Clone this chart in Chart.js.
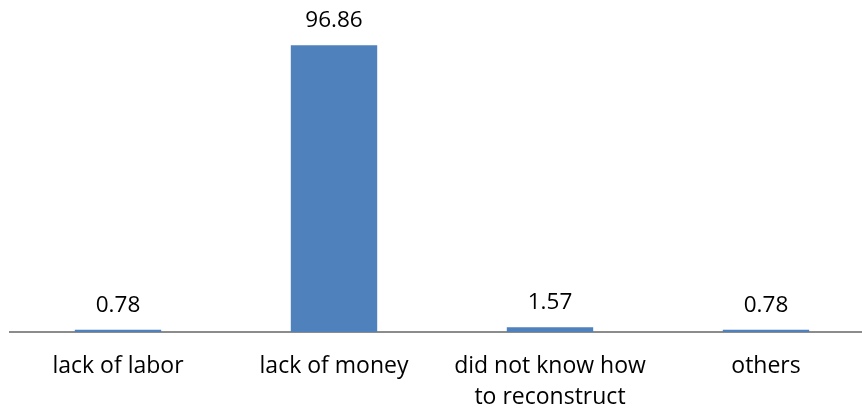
<!DOCTYPE html>
<html>
<head>
<meta charset="utf-8">
<script src="https://cdn.jsdelivr.net/npm/chart.js@4/dist/chart.umd.min.js"></script>
<style>
  html, body { margin: 0; padding: 0; background: #fff; overflow: hidden; }
  #wrap { width: 862px; height: 411px; overflow: hidden; }
</style>
</head>
<body>
<div id="wrap"><canvas id="chart" width="884" height="411"></canvas></div>
<script>
const categories = ['lack of labor', 'lack of money', ['did not know how', 'to reconstruct'], 'others'];
const values = [0.78, 96.86, 1.57, 0.78];

const fontFamily = '"Open Sans", "Liberation Sans", sans-serif';

// draws the value above each bar
const valueLabels = {
  id: 'valueLabels',
  afterDatasetsDraw(chart) {
    const ctx = chart.ctx;
    const meta = chart.getDatasetMeta(0);
    ctx.save();
    ctx.font = '22.5px ' + fontFamily;
    ctx.fillStyle = '#000';
    ctx.textAlign = 'center';
    ctx.textBaseline = 'alphabetic';
    meta.data.forEach((bar, i) => {
      ctx.fillText(values[i].toFixed(2), bar.x, bar.y - 18);
    });
    ctx.restore();
  }
};

new Chart(document.getElementById('chart').getContext('2d'), {
  type: 'bar',
  data: {
    labels: categories,
    datasets: [{
      data: values,
      backgroundColor: '#4F81BD',
      borderWidth: 0,
      categoryPercentage: 1,
      barPercentage: 0.4
    }]
  },
  options: {
    responsive: false,
    animation: false,
    layout: { padding: { top: 36, left: 10, right: 10, bottom: 0 } },
    plugins: {
      legend: { display: false },
      tooltip: { enabled: false }
    },
    scales: {
      x: {
        grid: { display: false, drawTicks: false },
        border: { display: true, color: '#8C8C8C', width: 2 },
        ticks: {
          color: '#000',
          padding: 19,
          font: { family: fontFamily, size: 23, lineHeight: 1.35 },
          maxRotation: 0
        },
        afterFit(scale) { scale.height = 79; }
      },
      y: {
        display: false,
        min: 0,
        max: 100
      }
    }
  },
  plugins: [valueLabels]
});
</script>
</body>
</html>
